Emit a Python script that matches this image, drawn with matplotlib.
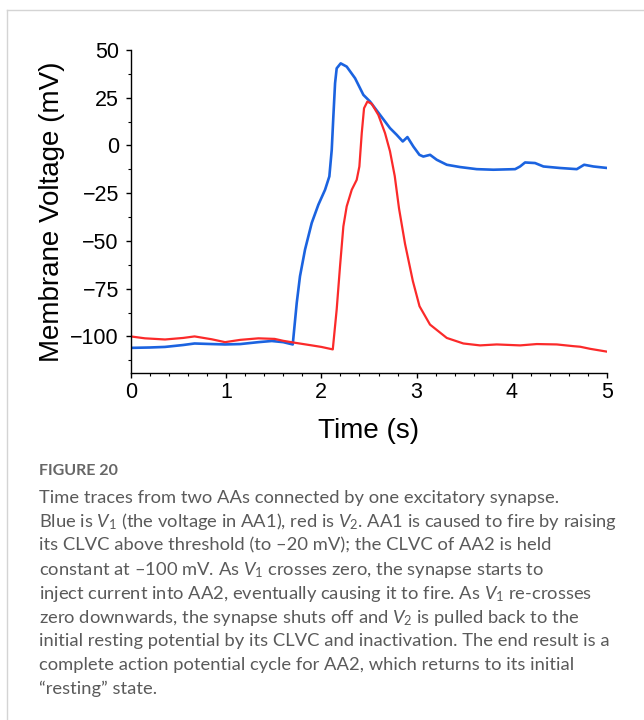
import matplotlib
matplotlib.use("Agg")
import matplotlib.pyplot as plt
from matplotlib.lines import Line2D

plt.rcParams['font.family'] = ['Liberation Sans', 'DejaVu Sans']
plt.rcParams['mathtext.fontset'] = 'custom'
plt.rcParams['mathtext.rm'] = 'Lato'
plt.rcParams['mathtext.it'] = 'Lato:italic'

# V1 trace (AA1, blue)
t_v1 = [0.00, 0.20, 0.36, 0.55, 0.67, 0.85, 0.99, 1.15, 1.34, 1.48, 1.60, 1.70,
        1.742, 1.776, 1.829, 1.899, 1.969, 2.039, 2.084, 2.109, 2.126, 2.144,
        2.161, 2.203, 2.266, 2.354, 2.441, 2.511, 2.616, 2.72, 2.79, 2.854,
        2.903, 2.966, 3.029, 3.07, 3.141, 3.211, 3.316, 3.455, 3.63, 3.805,
        4.033, 4.085, 4.137, 4.242, 4.33, 4.505, 4.68, 4.757, 4.854, 5.0]
v1 = [-106.0, -105.8, -105.5, -104.5, -103.7, -104.0, -104.2, -104.0, -103.0,
      -102.4, -103.0, -104.2, -82.4, -68.5, -54.5, -40.6, -31.0, -23.2, -16.2,
      -2.3, 15.1, 32.6, 40.4, 43.0, 41.3, 35.2, 26.5, 23.0, 16.0, 9.1, 5.6,
      2.1, 4.4, -0.6, -4.9, -5.8, -4.9, -7.5, -10.1, -11.3, -12.4, -12.7,
      -12.4, -11.0, -8.9, -9.2, -11.0, -11.8, -12.4, -10.1, -11.0, -11.8]

# V2 trace (AA2, red)
t_v2 = [0.00, 0.15, 0.36, 0.55, 0.67, 0.85, 0.99, 1.15, 1.34, 1.51, 1.60, 1.72,
        1.90, 2.00, 2.12, 2.161, 2.196, 2.231, 2.266, 2.319, 2.371, 2.399,
        2.424, 2.448, 2.483, 2.529, 2.598, 2.668, 2.72, 2.77, 2.815, 2.878,
        2.96, 3.03, 3.14, 3.316, 3.49, 3.665, 3.84, 4.085, 4.26, 4.47, 4.644,
        4.715, 4.82, 5.0]
v2 = [-100.0, -101.0, -101.6, -100.8, -100.0, -101.5, -103.0, -101.8, -101.0,
      -101.3, -102.3, -103.3, -104.7, -105.5, -106.8, -85.9, -63.3, -42.4,
      -31.9, -23.2, -18.0, -11.0, 6.5, 19.5, 23.0, 21.8, 16.0, 6.5, -3.0,
      -16.0, -33.0, -51.5, -71.0, -84.2, -93.8, -100.8, -103.7, -104.7,
      -104.2, -104.7, -104.0, -104.2, -105.1, -105.4, -106.5, -108.0]

y_ticks = [50, 25, 0, -25, -50, -75, -100]

caption_lines = [
    "Time traces from two AAs connected by one excitatory synapse.",
    "Blue is $V_1$ (the voltage in AA1), red is $V_2$. AA1 is caused to fire by raising",
    "its CLVC above threshold (to \u201320 mV); the CLVC of AA2 is held",
    "constant at \u2013100 mV. As $V_1$ crosses zero, the synapse starts to",
    "inject current into AA2, eventually causing it to fire. As $V_1$ re-crosses",
    "zero downwards, the synapse shuts off and $V_2$ is pulled back to the",
    "initial resting potential by its CLVC and inactivation. The end result is a",
    "complete action potential cycle for AA2, which returns to its initial",
    "\u201cresting\u201d state.",
]

W, H = 644, 720
fig = plt.figure(figsize=(W / 100, H / 100), dpi=100)
ax = fig.add_axes([130.7 / W, 1 - 372.7 / H, (607.3 - 130.7) / W, (372.7 - 50) / H])

ax.plot(t_v1, v1, color='#1b63e0', lw=1.9, solid_joinstyle='round')
ax.plot(t_v2, v2, color='#fb2a2a', lw=1.6, solid_joinstyle='round')

ax.set_xlim(0, 5)
ax.set_ylim(-119, 50)
ax.set_yticks(y_ticks)
ax.set_yticklabels([str(v).replace('-', '\u2212') for v in y_ticks])
ax.set_xticks(range(6))
ax.set_xticks([i * 0.2 for i in range(26)], minor=True)
ax.set_yticks([50 - 12.5 * i for i in range(14)], minor=True)

for s in ('top', 'right'):
    ax.spines[s].set_visible(False)
for s in ('left', 'bottom'):
    ax.spines[s].set_linewidth(1.0)

ax.tick_params(which='major', direction='out', length=3.5, width=1.0, labelsize=15.5)
ax.tick_params(which='minor', direction='out', length=2, width=0.8)
ax.tick_params(axis='x', which='major', pad=3)
ax.tick_params(axis='y', which='major', pad=5)

ax.set_xlabel('Time (s)', fontsize=20, labelpad=11)
ax.set_ylabel('Membrane Voltage (mV)', fontsize=20, labelpad=4)

# panel frame
fig.add_artist(Line2D([7 / W, 1], [1 - 10 / H, 1 - 10 / H], transform=fig.transFigure,
                      color='#d4d4d4', lw=1))
fig.add_artist(Line2D([7 / W, 7 / W], [0, 1 - 10 / H], transform=fig.transFigure,
                      color='#d4d4d4', lw=1))

fig.text(39 / W, 1 - 471 / H, 'FIGURE 20', fontsize=11.5, fontweight='bold',
         family=['Lato', 'DejaVu Sans'], color='#666666', va='center', ha='left')
for i, line in enumerate(caption_lines):
    y = 498 + 23.9 * i
    fig.text(39 / W, 1 - y / H, line, fontsize=13.2, family=['Lato', 'DejaVu Sans'],
             color='#5a5a5a', va='center', ha='left')

fig.savefig('out.png', dpi=100)
